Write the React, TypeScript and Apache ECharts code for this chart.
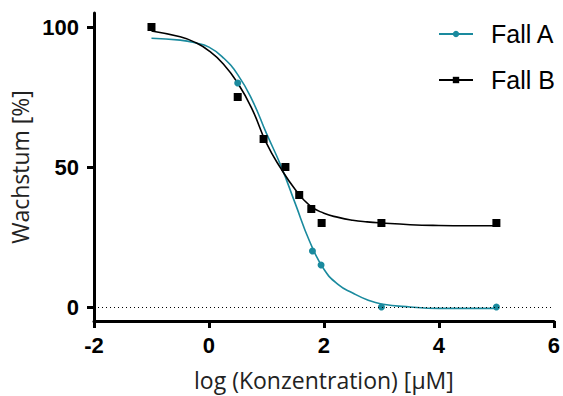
import React, { useEffect, useRef } from "react";
import * as echarts from "echarts";

// Measured points
const pointsAX = [0.5, 1.8, 1.95, 3, 5];
const pointsAY = [80, 20, 15, 0, 0];
const pointsBX = [-1, 0.5, 0.95, 1.33, 1.57, 1.78, 1.96, 3, 5];
const pointsBY = [100, 75, 60, 50, 40, 35, 30, 30, 30];

// Fitted curves
const curveAX = [-1, -0.5, -0.25, 0, 0.25, 0.5, 0.75, 1.0, 1.25, 1.5, 1.75, 2.0, 2.25, 2.5, 2.75, 3, 3.5, 4, 4.5, 5];
const curveAY = [96, 95.3, 94.4, 92.8, 89, 83, 74, 62, 50.5, 37, 23.5, 13.5, 8, 5, 2.6, 1.1, 0, -0.5, -0.5, -0.5];
const curveBX = [-1, -0.5, -0.25, 0, 0.25, 0.5, 0.75, 1.0, 1.25, 1.5, 1.75, 2.0, 2.25, 2.5, 2.75, 3, 3.5, 4, 4.5, 5];
const curveBY = [98.6, 96.5, 94.6, 91.5, 86.8, 80, 70.7, 58.5, 49.5, 42, 36.3, 33.5, 32, 31, 30.4, 30, 29.4, 29.1, 29, 29];

const xTicks = [-2, 0, 2, 4, 6];
const yTicks = [0, 50, 100];

const TEAL = "#1a8a9e";
const BLACK = "#000000";

export default function App() {
  const ref = useRef<HTMLDivElement>(null);
  useEffect(() => {
    if (!ref.current) return;
    const chart = echarts.init(ref.current, undefined, { renderer: "svg" });
    const zip = (xs: number[], ys: number[]) => xs.map((x, i) => [x, ys[i]]);
    chart.setOption({
      animation: false,
      backgroundColor: "#ffffff",
      grid: { left: 94, right: 7, top: 13, bottom: 74, containLabel: false },
      legend: {
        data: ["Fall A", "Fall B"],
        orient: "vertical",
        left: 438,
        top: 21,
        padding: 0,
        itemWidth: 34,
        itemHeight: 8,
        itemGap: 20,
        textStyle: {
          fontFamily: "Liberation Sans",
          fontSize: 25,
          color: "#000",
          lineHeight: 26,
          padding: [0, 0, 0, 13],
        },
      },
      xAxis: {
        type: "value",
        min: xTicks[0],
        max: xTicks[xTicks.length - 1],
        interval: 2,
        name: "log (Konzentration) [µM]",
        nameLocation: "middle",
        nameGap: 47,
        nameTextStyle: { fontFamily: "Open Sans", fontSize: 23, color: "#222" },
        axisLine: { onZero: false, lineStyle: { color: "#000", width: 3 } },
        axisTick: { length: 7, lineStyle: { color: "#000", width: 3 } },
        axisLabel: {
          margin: 13,
          fontFamily: "Liberation Sans",
          fontWeight: "bold",
          fontSize: 22,
          color: "#000",
        },
        splitLine: { show: false },
      },
      yAxis: {
        type: "value",
        min: -5,
        max: 105,
        name: "Wachstum [%]",
        nameLocation: "middle",
        nameGap: 50,
        nameTextStyle: { fontFamily: "Open Sans", fontSize: 23, color: "#222" },
        axisLine: { onZero: false, lineStyle: { color: "#000", width: 3 } },
        axisTick: { length: 7, lineStyle: { color: "#000", width: 3 }, customValues: yTicks },
        axisLabel: {
          margin: 15,
          fontFamily: "Liberation Sans",
          fontWeight: "bold",
          fontSize: 22,
          color: "#000",
          customValues: yTicks,
        },
        splitLine: { show: false },
      },
      series: [
        {
          name: "Fall A",
          type: "line",
          data: zip(curveAX, curveAY),
          smooth: 0.5,
          symbol: "circle",
          showSymbol: false,
          color: TEAL,
          lineStyle: { color: TEAL, width: 1.6 },
          itemStyle: { color: TEAL },
          z: 3,
          markLine: {
            silent: true,
            symbol: "none",
            label: { show: false },
            lineStyle: { color: "#000", width: 1, type: [1, 3] },
            data: [{ yAxis: 0 }],
          },
        },
        {
          name: "Fall B",
          type: "line",
          data: zip(curveBX, curveBY),
          smooth: 0.5,
          symbol: "rect",
          showSymbol: false,
          color: BLACK,
          lineStyle: { color: BLACK, width: 1.6 },
          itemStyle: { color: BLACK },
          z: 3,
        },
        {
          name: "Fall A",
          type: "scatter",
          data: zip(pointsAX, pointsAY),
          symbol: "circle",
          symbolSize: 7,
          itemStyle: { color: TEAL, opacity: 1 },
          z: 4,
        },
        {
          name: "Fall B",
          type: "scatter",
          data: zip(pointsBX, pointsBY),
          symbol: "rect",
          symbolSize: 8,
          itemStyle: { color: BLACK, opacity: 1 },
          z: 4,
        },
      ],
    });
    return () => chart.dispose();
  }, []);
  return <div ref={ref} style={{ width: 563, height: 396, position: "absolute", left: 0, top: 0 }} />;
}
